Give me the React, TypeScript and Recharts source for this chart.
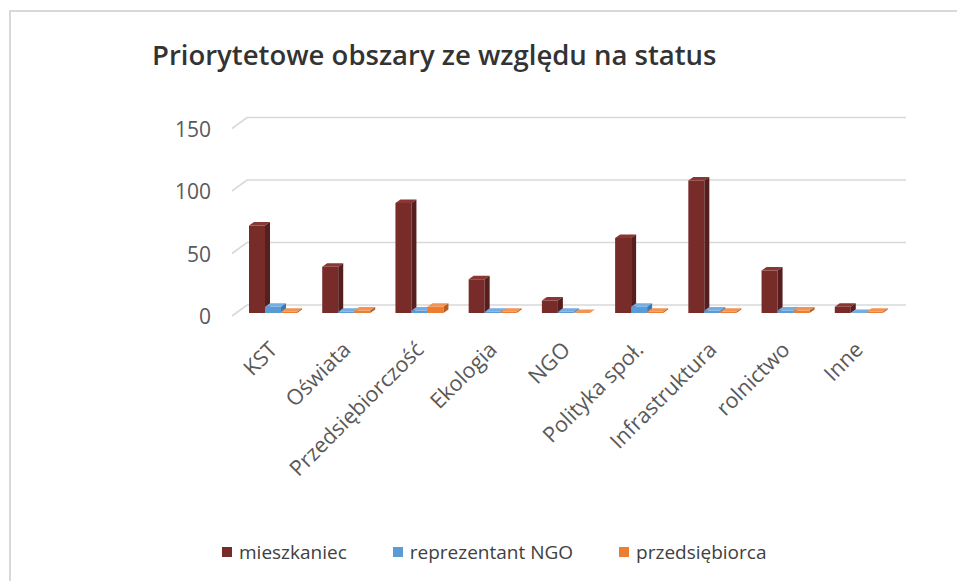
import React from 'react';
import { BarChart, Bar, XAxis, YAxis, CartesianGrid } from 'recharts';

const categories = ['KST', 'Oświata', 'Przedsiębiorczość', 'Ekologia', 'NGO', 'Polityka społ.', 'Infrastruktura', 'rolnictwo', 'Inne'];
const mieszkaniec = [70, 37, 88, 27, 10, 60, 106, 34, 5];
const reprezentantNGO = [5, 1, 2, 1, 1, 5, 2, 2, 0];
const przedsiebiorca = [1, 2, 5, 1, 0, 1, 1, 2, 1];
const yTicks = [0, 50, 100, 150];
const seriesNames = ['mieszkaniec', 'reprezentant NGO', 'przedsiębiorca'];
const title = 'Priorytetowe obszary ze względu na status';

const data = categories.map((c, i) => ({
  name: c,
  m: mieszkaniec[i],
  r: reprezentantNGO[i],
  p: przedsiebiorca[i],
}));

const COLORS = [
  { front: '#772C2A', top: '#8A3633', side: '#561E1D' },
  { front: '#5B9BD5', top: '#74AEE2', side: '#3E78AE' },
  { front: '#ED7D31', top: '#F39455', side: '#B85E20' },
];

const FONT = '"Open Sans", "DejaVu Sans", sans-serif';
const DX = 5;
const DY = 3.5;

const make3D = (c: { front: string; top: string; side: string }) => (props: any) => {
  const { x, y, width, height } = props;
  if (x == null || y == null) return <g />;
  const h = Math.max(0, height || 0);
  const w = width;
  return (
    <g>
      <rect x={x} y={y} width={w} height={h} fill={c.front} />
      <polygon points={`${x},${y} ${x + DX},${y - DY} ${x + w + DX},${y - DY} ${x + w},${y}`} fill={c.top} />
      <polygon points={`${x + w},${y} ${x + w + DX},${y - DY} ${x + w + DX},${y + h - DY} ${x + w},${y + h}`} fill={c.side} />
    </g>
  );
};

const gridLine = (props: any) => {
  const { x1, y1, x2 } = props;
  return (
    <path
      key={`g-${y1}`}
      d={`M${x1 - 4},${y1 + 3} L${x1 + 11},${y1 - 8} L${x2 + 11},${y1 - 8}`}
      stroke="#D9D9D9"
      strokeWidth={1.6}
      fill="none"
    />
  );
};

const YTick = (props: any) => {
  const { x, y, payload } = props;
  return (
    <text x={x} y={y + 3} textAnchor="end" dominantBaseline="central" fontFamily={FONT} fontSize={21} fill="#595959">
      {payload.value}
    </text>
  );
};

const XTick = (props: any) => {
  const { x, y, payload } = props;
  return (
    <text
      transform={`translate(${x + 6},${y + 38}) rotate(-45)`}
      textAnchor="end"
      fontFamily={FONT}
      fontSize={21.5}
      fill="#595959"
    >
      {payload.value}
    </text>
  );
};

export default function App() {
  return (
    <div style={{ position: 'fixed', left: 0, top: 0, width: 957, height: 581, overflow: 'hidden', background: '#fff' }}>
      <div style={{ position: 'absolute', left: 9, top: 10, width: 1000, height: 1000, border: '2px solid #D9D9D9', boxSizing: 'border-box' }} />
      <div
        style={{
          position: 'absolute',
          left: 152,
          top: 36,
          fontFamily: FONT,
          fontWeight: 600,
          fontSize: 27.5,
          color: '#333333',
          whiteSpace: 'nowrap',
          lineHeight: 1.362,
        }}
      >
        {title}
      </div>
      <div style={{ position: 'absolute', left: 0, top: 0 }}>
        <BarChart
          width={957}
          height={581}
          data={data}
          margin={{ top: 125.5, right: 62, bottom: 208, left: 176 }}
          barSize={16}
          barGap={0}
        >
          <CartesianGrid horizontal={gridLine} vertical={false} />
          <XAxis dataKey="name" axisLine={false} tickLine={false} tickSize={0} tickMargin={0} height={60} interval={0} tick={<XTick />} />
          <YAxis
            domain={[0, 150]}
            ticks={yTicks}
            axisLine={false}
            tickLine={false}
            tickSize={0}
            tickMargin={25}
            width={60}
            tick={<YTick />}
          />
          <Bar dataKey="m" name={seriesNames[0]} fill={COLORS[0].front} isAnimationActive={false} shape={make3D(COLORS[0])} />
          <Bar dataKey="r" name={seriesNames[1]} fill={COLORS[1].front} isAnimationActive={false} shape={make3D(COLORS[1])} />
          <Bar dataKey="p" name={seriesNames[2]} fill={COLORS[2].front} isAnimationActive={false} shape={make3D(COLORS[2])} />
        </BarChart>
      </div>
      <div
        style={{
          position: 'absolute',
          left: 222,
          top: 538,
          display: 'flex',
          gap: 46,
          fontFamily: FONT,
          fontSize: 19,
          color: '#404040',
          whiteSpace: 'nowrap',
        }}
      >
        {seriesNames.map((n, i) => (
          <div key={n} style={{ display: 'flex', alignItems: 'center', height: 28 }}>
            <div style={{ width: 10, height: 10, background: COLORS[i].front, marginRight: 7 }} />
            <span>{n}</span>
          </div>
        ))}
      </div>
    </div>
  );
}
